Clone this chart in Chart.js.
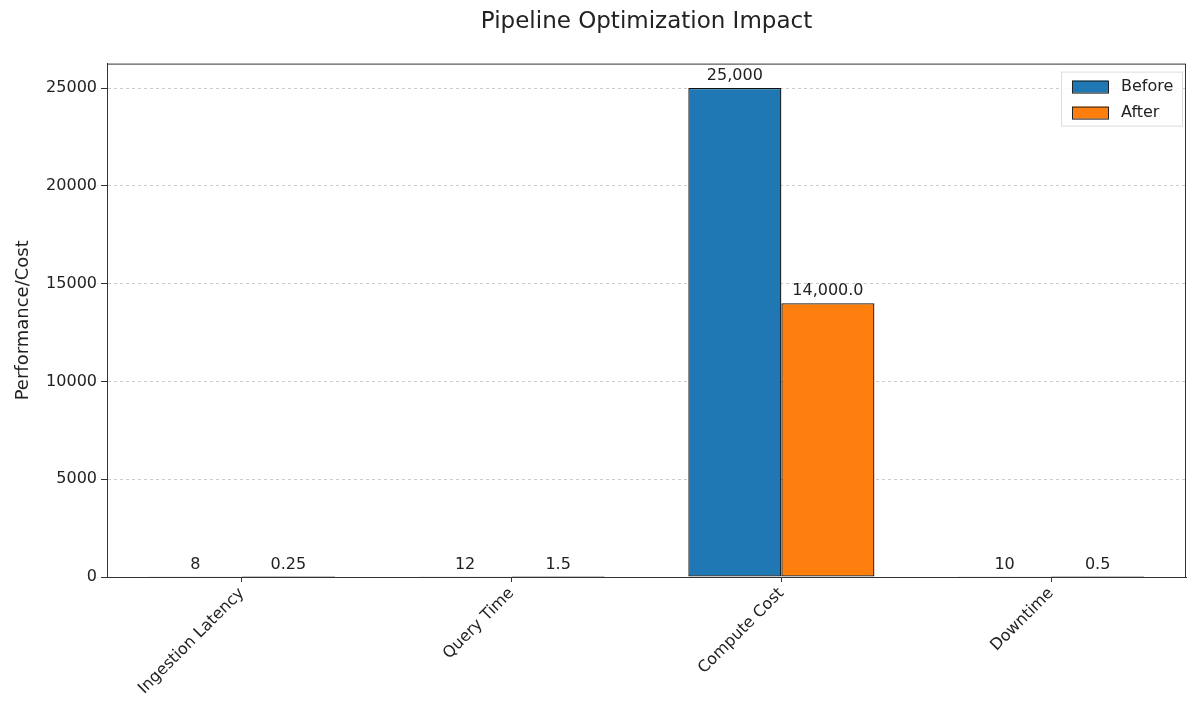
<!DOCTYPE html>
<html>
<head>
<meta charset="utf-8">
<script src="https://cdn.jsdelivr.net/npm/chart.js@4/dist/chart.umd.min.js"></script>
<style>
  html, body { margin: 0; padding: 0; background: #fff; }
  #wrap { width: 1189px; height: 707px; }
</style>
</head>
<body>
<div id="wrap"><canvas id="barChart"></canvas></div>
<script>
// categories and values
var categories = ["Ingestion Latency", "Query Time", "Compute Cost", "Downtime"];
var beforeValues = [8, 12, 25000, 10];
var afterValues = [0.25, 1.5, 14000, 0.5];
var yTicks = [0, 5000, 10000, 15000, 20000, 25000];

var FONT = "'DejaVu Sans', sans-serif";

// label text above each bar
function fmtBefore(v) { return v.toLocaleString('en-US'); }
function fmtAfter(v) {
  return v >= 1000 ? v.toLocaleString('en-US', { minimumFractionDigits: 1 }) : String(v);
}

// values on top of the bars
var barLabels = {
  id: 'barLabels',
  afterDatasetsDraw: function (chart) {
    var c = chart.ctx;
    c.save();
    c.font = "16px " + FONT;
    c.fillStyle = '#222';
    c.textAlign = 'center';
    c.textBaseline = 'bottom';
    chart.data.datasets.forEach(function (ds, i) {
      var fmt = i === 0 ? fmtBefore : fmtAfter;
      chart.getDatasetMeta(i).data.forEach(function (bar, j) {
        c.fillText(fmt(ds.data[j]), bar.x, bar.y - 4);
      });
    });
    c.restore();
  }
};

// box around the plot + legend inside top right
var frameAndLegend = {
  id: 'frameAndLegend',
  afterDraw: function (chart) {
    var a = chart.chartArea, c = chart.ctx;
    c.save();
    c.strokeStyle = '#333';
    c.lineWidth = 1;
    c.strokeRect(a.left + 0.5, a.top + 0.5, a.width - 1, a.height);

    var bw = 121, bh = 54;
    var bx = a.right - 4 - bw, by = a.top + 8;
    c.fillStyle = 'rgba(255,255,255,0.85)';
    c.strokeStyle = '#ddd';
    c.fillRect(bx, by, bw, bh);
    c.strokeRect(bx + 0.5, by + 0.5, bw, bh);
    c.font = "16px " + FONT;
    c.textBaseline = 'middle';
    c.textAlign = 'left';
    chart.data.datasets.forEach(function (ds, i) {
      var yy = by + 15 + i * 26;
      c.fillStyle = ds.backgroundColor;
      c.fillRect(bx + 11, yy - 6, 36, 12);
      c.strokeStyle = '#222';
      c.strokeRect(bx + 11.5, yy - 5.5, 36, 12);
      c.fillStyle = '#222';
      c.fillText(ds.label, bx + 60, yy);
    });
    c.restore();
  }
};

new Chart(document.getElementById('barChart'), {
  type: 'bar',
  data: {
    labels: categories,
    datasets: [
      {
        label: 'Before',
        data: beforeValues,
        backgroundColor: '#1f77b4',
        borderColor: '#111',
        borderWidth: 1.3,
        borderSkipped: false
      },
      {
        label: 'After',
        data: afterValues,
        backgroundColor: '#ff7f0e',
        borderColor: '#111',
        borderWidth: 1.3,
        borderSkipped: false
      }
    ]
  },
  options: {
    responsive: true,
    maintainAspectRatio: false,
    animation: false,
    layout: { padding: { left: 8, right: 3, top: 6, bottom: 0 } },
    categoryPercentage: 0.69,
    barPercentage: 1.0,
    plugins: {
      legend: { display: false },
      tooltip: { enabled: false },
      title: {
        display: true,
        fullSize: false,
        text: 'Pipeline Optimization Impact',
        color: '#222',
        font: { family: FONT, size: 23, weight: 'normal' },
        padding: { top: 2, bottom: 28 }
      }
    },
    scales: {
      x: {
        grid: { display: true, drawOnChartArea: false, offset: false, tickLength: 5, color: '#333' },
        border: { display: true, color: '#333' },
        ticks: {
          color: '#222',
          font: { family: FONT, size: 16 },
          minRotation: 45,
          maxRotation: 45,
          padding: 2
        },
        afterFit: function (scale) { scale.height = 130; }
      },
      y: {
        min: 0,
        max: 26250,
        afterBuildTicks: function (scale) {
          scale.ticks = yTicks.map(function (v) { return { value: v }; });
        },
        grid: { color: '#ccc', tickLength: 6, tickColor: '#333' },
        border: { display: true, color: '#333', dash: [3, 3] },
        ticks: {
          color: '#222',
          font: { family: FONT, size: 16 },
          padding: 4,
          callback: function (v) { return String(v); }
        },
        title: {
          display: true,
          text: 'Performance/Cost',
          color: '#222',
          font: { family: FONT, size: 18 },
          padding: { top: 5, bottom: 8 }
        },
        afterFit: function (scale) { scale.width = 99; }
      }
    }
  },
  plugins: [barLabels, frameAndLegend]
});
</script>
</body>
</html>
